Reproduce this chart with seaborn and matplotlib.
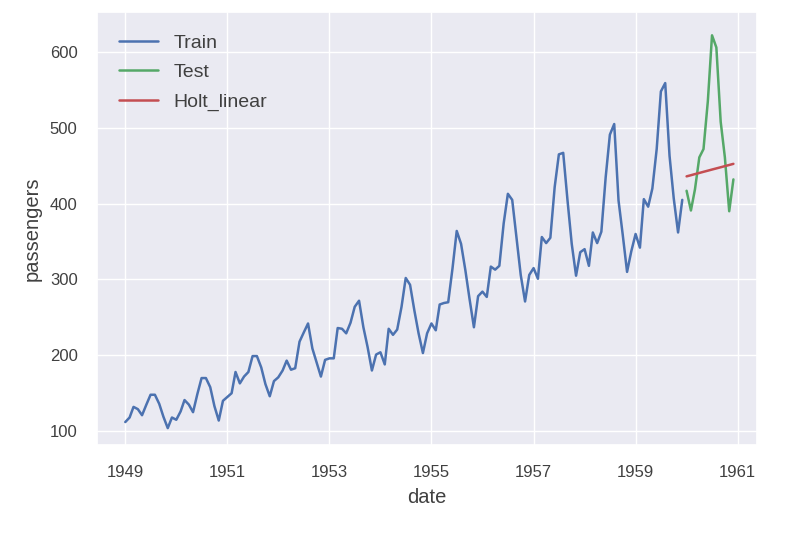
import pandas as pd
import seaborn as sns
import matplotlib.pyplot as plt
import matplotlib.dates as mdates

# monthly airline passengers
train_values = [
    112, 118, 132, 129, 121, 135, 148, 148, 136, 119, 104, 118,
    115, 126, 141, 135, 125, 149, 170, 170, 158, 133, 114, 140,
    145, 150, 178, 163, 172, 178, 199, 199, 184, 162, 146, 166,
    171, 180, 193, 181, 183, 218, 230, 242, 209, 191, 172, 194,
    196, 196, 236, 235, 229, 243, 264, 272, 237, 211, 180, 201,
    204, 188, 235, 227, 234, 264, 302, 293, 259, 229, 203, 229,
    242, 233, 267, 269, 270, 315, 364, 347, 312, 274, 237, 278,
    284, 277, 317, 313, 318, 374, 413, 405, 355, 306, 271, 306,
    315, 301, 356, 348, 355, 422, 465, 467, 404, 347, 305, 336,
    340, 318, 362, 348, 363, 435, 491, 505, 404, 359, 310, 337,
    360, 342, 406, 396, 420, 472, 548, 559, 463, 407, 362, 405,
]
test_values = [417, 391, 419, 461, 472, 535, 622, 606, 508, 461, 390, 432]
holt_values = [436, 437.5, 439, 440.5, 442, 443.5, 445, 446.5, 448, 449.5, 451, 452.5]
tick_years = ["1949", "1951", "1953", "1955", "1957", "1959", "1961"]

train_dates = pd.date_range("1949-01-01", periods=len(train_values), freq="MS")
test_dates = pd.date_range("1960-01-01", periods=len(test_values), freq="MS")

train = pd.DataFrame({"date": train_dates, "passengers": train_values})
test = pd.DataFrame({"date": test_dates, "passengers": test_values})
holt = pd.DataFrame({"date": test_dates, "passengers": holt_values})

sns.set_theme(style="darkgrid", palette="deep6")
plt.rcParams["font.family"] = ["Liberation Sans", "DejaVu Sans"]
text_color = "#404040"
plt.rcParams["text.color"] = text_color
plt.rcParams["axes.labelcolor"] = text_color
plt.rcParams["xtick.color"] = text_color
plt.rcParams["ytick.color"] = text_color

fig, ax = plt.subplots(figsize=(7.89, 5.37), dpi=100)

sns.lineplot(data=train, x="date", y="passengers", ax=ax, label="Train", linewidth=1.8)
sns.lineplot(data=test, x="date", y="passengers", ax=ax, label="Test", linewidth=1.8)
sns.lineplot(data=holt, x="date", y="passengers", ax=ax, label="Holt_linear", linewidth=1.8)

ax.set_xticks(pd.to_datetime(tick_years))
ax.xaxis.set_major_formatter(mdates.DateFormatter("%Y"))
ax.set_xlim(pd.Timestamp("1948-06-13"), pd.Timestamp("1961-05-22"))
ax.set_ylim(81.5, 653)
ax.set_yticks([100, 200, 300, 400, 500, 600])
ax.tick_params(axis="x", labelsize=12, pad=8)
ax.tick_params(axis="y", labelsize=12, pad=8)
ax.set_xlabel("date", fontsize=14.5, labelpad=6)
ax.set_ylabel("passengers", fontsize=14.5, labelpad=6)
ax.legend(loc="upper left", frameon=False, fontsize=14, borderaxespad=0.75,
          labelspacing=0.6)

plt.subplots_adjust(left=0.123, right=0.96, top=0.978, bottom=0.171)
plt.savefig("out.png")
